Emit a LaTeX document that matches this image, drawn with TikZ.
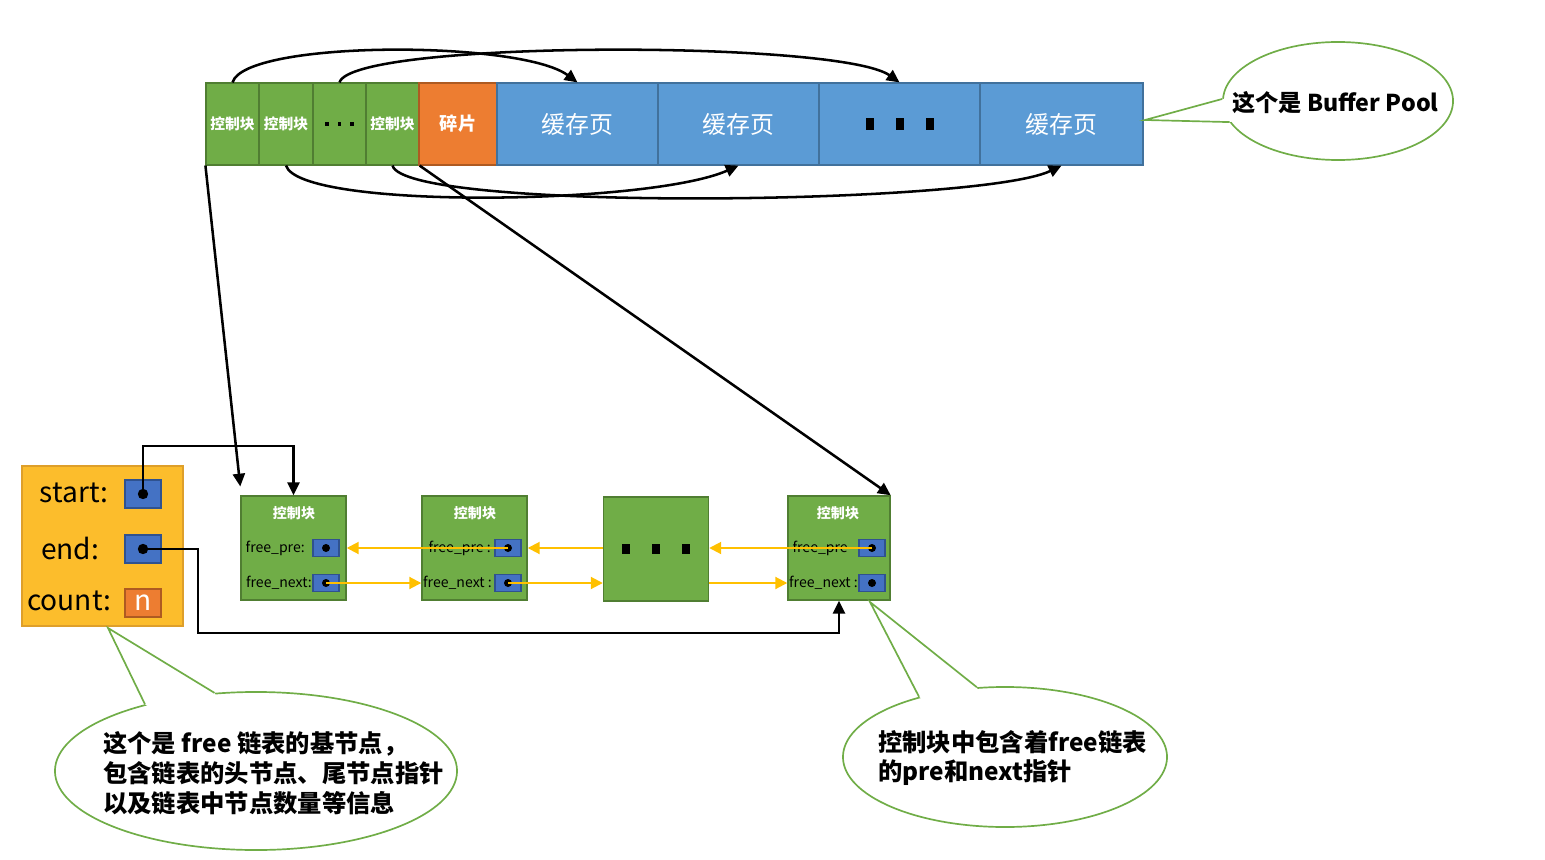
\documentclass[tikz,border=0pt]{standalone}
\usepackage{fontspec}
\setmainfont{Noto Sans CJK SC}
\usetikzlibrary{arrows.meta, positioning, calc, shapes.geometric}
\definecolor{ctlgreen}{HTML}{70AD47}
\definecolor{ctlgreenD}{HTML}{507E32}
\definecolor{pageblue}{HTML}{5B9BD5}
\definecolor{pageblueD}{HTML}{41719C}
\definecolor{fragorange}{HTML}{ED7D31}
\definecolor{fragorangeD}{HTML}{AE5A21}
\definecolor{baseyellow}{HTML}{FCBD2C}
\definecolor{baseyellowD}{HTML}{DE9F2A}
\definecolor{ptrblue}{HTML}{4472C4}
\definecolor{ptrblueD}{HTML}{2F528F}
\definecolor{linkyellow}{HTML}{FFC000}

\begin{document}
\begin{tikzpicture}[
    x=0.025cm, y=-0.025cm,
    ctl/.style={rectangle, draw=ctlgreenD, fill=ctlgreen, line width=0.8pt,
                minimum width=1.325cm, minimum height=2.05cm, inner sep=0pt,
                text=white, font=\bfseries\fontsize{10.5}{12}\selectfont},
    page/.style={rectangle, draw=pageblueD, fill=pageblue, line width=0.8pt,
                 minimum width=4.025cm, minimum height=2.05cm, inner sep=0pt,
                 text=white, font=\fontsize{17}{20}\selectfont},
    lnode/.style={rectangle, draw=ctlgreenD, fill=ctlgreen, line width=1pt,
                  minimum width=2.625cm, minimum height=2.6cm, inner sep=0pt},
    ptr/.style={rectangle, draw=ptrblueD, fill=ptrblue, line width=0.8pt,
                minimum width=0.65cm, minimum height=0.425cm, inner sep=0pt},
    field/.style={anchor=east, inner sep=0pt, font=\fontsize{10}{12}\selectfont},
    title/.style={inner sep=0pt, text=white, font=\bfseries\fontsize{10}{12}\selectfont},
    baselbl/.style={inner sep=0pt, font=\fontsize{20}{22}\selectfont},
    arr/.style={-{Triangle[length=0.32cm, width=0.3cm]}, line width=1.8pt},
    link/.style={-{Triangle[length=0.3cm, width=0.3cm]}, linkyellow, line width=1.4pt},
    callout/.style={ellipse, draw=ctlgreen, fill=white, line width=1.2pt, inner sep=0pt},
    notetext/.style={anchor=west, inner sep=0pt, align=left,
                     font=\bfseries\fontsize{17.3}{21.3}\selectfont},
]
\useasboundingbox (0,0) rectangle (1545,860);

% buffer pool
\node[ctl] (c1) at (232.5,124) {控制块};
\node[ctl, minimum width=1.35cm] (c2) at (286,124) {控制块};
\node[ctl, text=black] (cdots) at (339.5,124)
    {\rule{0.09cm}{0.09cm}\hspace{0.22cm}\rule{0.09cm}{0.09cm}\hspace{0.22cm}\rule{0.09cm}{0.09cm}};
\node[ctl] (c3) at (392.5,124) {控制块};
\node[ctl, draw=fragorangeD, fill=fragorange, minimum width=1.95cm,
      font=\bfseries\fontsize{13}{15}\selectfont] (frag) at (458,124) {碎片};
\node[page] (p1) at (577.5,124) {缓存页};
\node[page] (p2) at (738.5,124) {缓存页};
\node[page, text=black] (pdots) at (899.5,124)
    {\rule{0.2cm}{0.3cm}\hspace{0.55cm}\rule{0.2cm}{0.3cm}\hspace{0.55cm}\rule{0.2cm}{0.3cm}};
\node[page, minimum width=4.075cm] (p3) at (1061.5,124) {缓存页};

\draw[arr] (c1.north) .. controls (245,40) and (520,40) .. (p1.north);
\draw[arr] (cdots.north) .. controls (352,40) and (840,40) .. (pdots.north);
\draw[arr] (c2.south) .. controls (300,210) and (650,205) .. (p2.south);
\draw[arr] (c3.south) .. controls (405,212) and (980,205) .. (p3.south);

% free list base node
\node[rectangle, draw=baseyellowD, fill=baseyellow, line width=1.2pt,
      minimum width=4.025cm, minimum height=4cm] (head) at (102.5,546) {};
\node[baselbl] (slbl) at (74,493) {start:};
\node[baselbl] (elbl) at (70,548) {end:};
\node[baselbl] (clbl) at (69,601) {count:};
\node[ptr, minimum width=0.9cm, minimum height=0.7cm] (sbox) at (143,494) {};
\node[ptr, minimum width=0.9cm, minimum height=0.7cm] (ebox) at (143,549) {};
\node[ptr, draw=fragorangeD, fill=fragorange, minimum width=0.9cm, minimum height=0.7cm,
      text=white, font=\fontsize{20}{20}\selectfont] (cbox) at (143,603) {n};
\fill (sbox.center) circle (0.13cm);
\fill (ebox.center) circle (0.13cm);

% control blocks
\node[lnode] (n1) at (293.5,548) {};
\node[lnode] (n2) at (474.5,548) {};
\node[lnode, font=\fontsize{10}{10}\selectfont] (n3) at (656,549)
    {\rule{0.2cm}{0.26cm}\hspace{0.55cm}\rule{0.2cm}{0.26cm}\hspace{0.55cm}\rule{0.2cm}{0.26cm}};
\node[lnode, minimum width=2.55cm] (n4) at (839,548) {};

\node[title] (t1) at (294,513) {控制块};
\node[title] (t2) at (475,513) {控制块};
\node[title] (t4) at (838,513) {控制块};

\node[ptr] (b1p) at (326,548) {};
\node[ptr] (b1n) at (326,583) {};
\node[ptr] (b2p) at (508,548) {};
\node[ptr] (b2n) at (508,583) {};
\node[ptr] (b4p) at (872,548) {};
\node[ptr] (b4n) at (872,583) {};
\foreach \b in {b1p,b1n,b2p,b2n,b4p,b4n}
    \fill (\b.center) circle (0.1cm);

\node[field] (f1p) at (305,548) {free\_pre:};
\node[field] (f1n) at (312,583) {free\_next:};
\node[field] (f2p) at (491,548) {free\_pre :};
\node[field] (f2n) at (492,583) {free\_next :};
\node[field] (f4p) at (848,548) {free\_pre};
\node[field] (f4n) at (858,583) {free\_next :};

\draw[link] (b2p.center) -- (n1.east |- b2p);
\draw[link] (b1n.center) -- (n2.west |- b1n);
\draw[link] (n3.west |- b2p) -- (n2.east |- b2p);
\draw[link] (b2n.center) -- (n3.west |- b2n);
\draw[link] (b4p.center) -- (n3.east |- b4p);
\draw[link] (n3.east |- b4n) -- (n4.west |- b4n);

% pointers into the list
\draw[arr] (c1.south west) -- ([yshift=0.22cm]n1.north west);
\draw[arr] (c3.south east) -- (n4.north east);
\draw[arr] (sbox.center) -- ++(0,-48) -| (n1.north);
\draw[arr] (ebox.center) -- ++(55,0) -- ++(0,84) -| (n4.south);

% notes
\node[callout, minimum width=5.75cm, minimum height=2.95cm] (bpnote) at (1338,101) {};
\node[callout, minimum width=10.05cm, minimum height=3.95cm] (headnote) at (256,771) {};
\node[callout, minimum width=8.1cm, minimum height=3.5cm] (ctlnote) at (1005,757) {};

\coordinate (bptip) at (1145,120);
\coordinate (headtip) at (108,628);
\coordinate (ctltip) at (870,602);
\fill[white] (bpnote.179) -- (bptip) -- (bpnote.191)
    -- ($(bpnote.191)!0.05!(bpnote.center)$) -- ($(bpnote.179)!0.05!(bpnote.center)$) -- cycle;
\draw[ctlgreen, line width=1.2pt] (bpnote.179) -- (bptip) -- (bpnote.191);
\fill[white] (headnote.149) -- (headtip) -- (headnote.118)
    -- ($(headnote.118)!0.06!(headnote.center)$) -- ($(headnote.149)!0.06!(headnote.center)$) -- cycle;
\draw[ctlgreen, line width=1.2pt] (headnote.149) -- (headtip) -- (headnote.118);
\fill[white] (ctlnote.145) -- (ctltip) -- (ctlnote.112)
    -- ($(ctlnote.112)!0.06!(ctlnote.center)$) -- ($(ctlnote.145)!0.06!(ctlnote.center)$) -- cycle;
\draw[ctlgreen, line width=1.2pt] (ctlnote.145) -- (ctltip) -- (ctlnote.112);

\node[notetext, font=\bfseries\fontsize{16.5}{18}\selectfont] (bptext) at (1232,103)
    {这个是 Buffer Pool};
\node[notetext] (headtext) at (103,773)
    {这个是 free 链表的基节点，\\包含链表的头节点、尾节点指针\\以及链表中节点数量等信息};
\node[notetext] (ctltext) at (878,758)
    {控制块中包含着free链表\\的pre和next指针};

\end{tikzpicture}
\end{document}
